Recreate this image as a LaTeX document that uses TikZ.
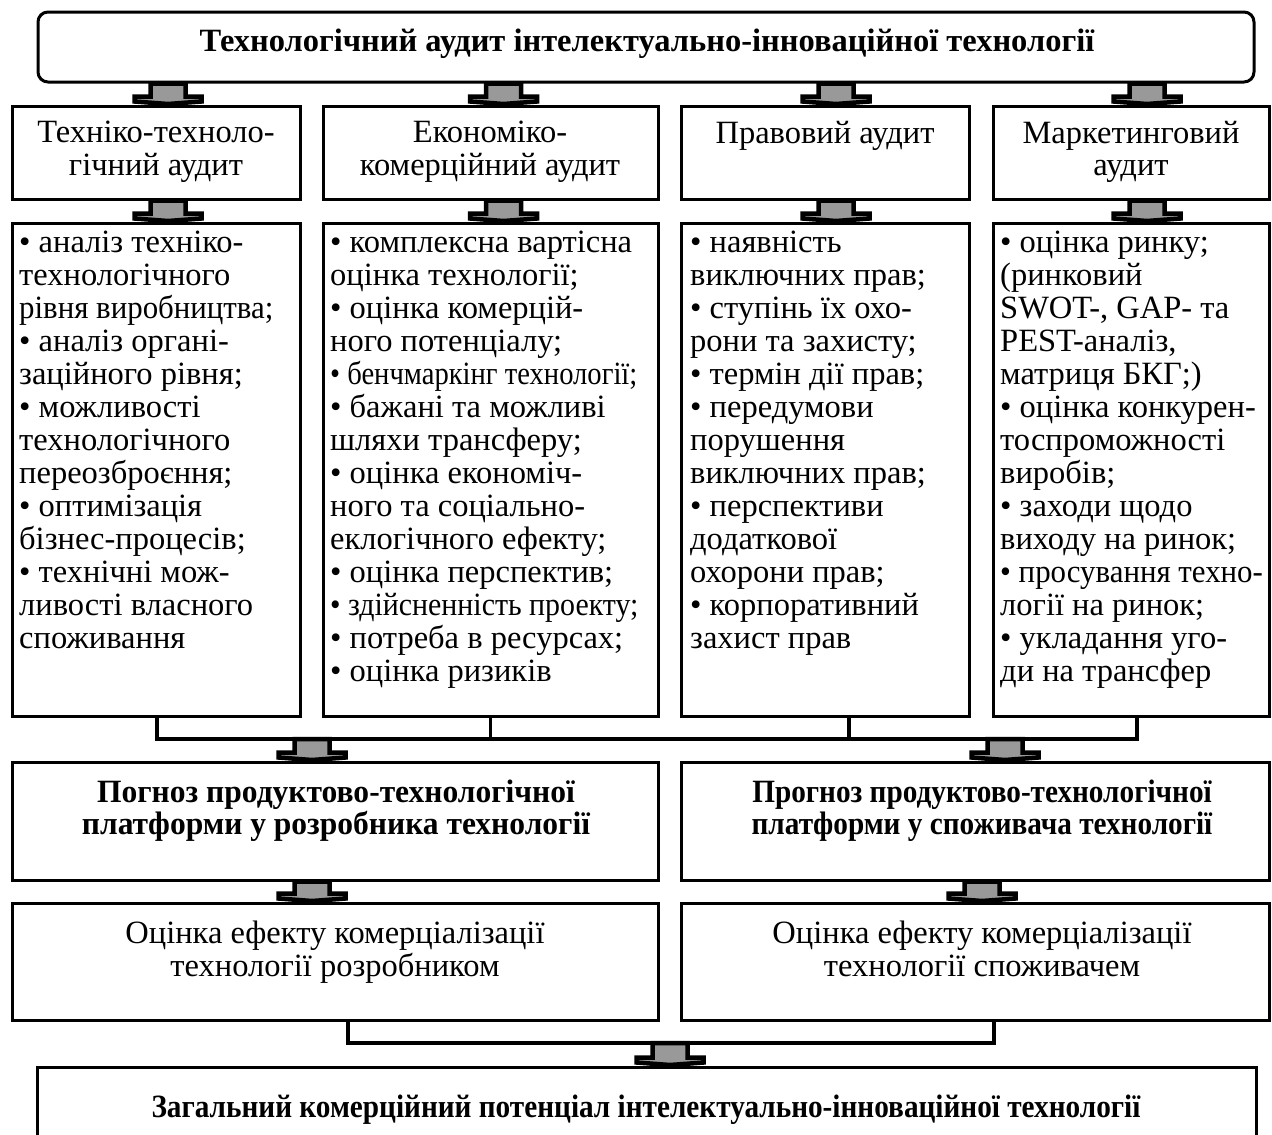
\documentclass[tikz,border=0pt]{standalone}
\usepackage{fontspec}
\usepackage{graphicx}
\setmainfont{Liberation Serif}
\usetikzlibrary{calc}
\definecolor{arrgray}{gray}{0.6}
\newcommand\cnd[2][0.86]{\scalebox{#1}[1]{#2}}
\newcommand\bx[6][]{%
  \node[box,#1,minimum width={#4-#2},minimum height={#5-#3}] (#6) at ({(#2+#4)/2},{(#3+#5)/2}) {};}
\newcommand\barrow[2]{%
  \draw[blk] let \p1=#1, \p2=#2 in
   ({\x1-17.5pt},\y1) -- ({\x1-17.5pt},{\y2+8pt}) -- ({\x1-33.5pt},{\y2+8pt}) -- ({\x1-33.5pt},{\y2+3pt})
   -- (\x1,{\y2+0.5pt}) -- ({\x1+33.5pt},{\y2+3pt}) -- ({\x1+33.5pt},{\y2+8pt}) -- ({\x1+17.5pt},{\y2+8pt})
   -- ({\x1+17.5pt},\y1) -- cycle;}
\tikzset{
  box/.style={draw, line width=3pt, inner sep=0pt},
  blk/.style={draw=black, fill=arrgray, line width=4.5pt, line join=miter},
  conn/.style={draw, line width=3.5pt, line join=miter},
  txt/.style={inner sep=0pt, font=\fontsize{32.5}{32.5}\selectfont, align=center, anchor=north},
  btxt/.style={inner sep=0pt, font=\fontsize{32.5}{32}\selectfont\bfseries, align=center, anchor=north},
  lst/.style={inner sep=0pt, font=\fontsize{32.5}{33}\selectfont, align=left, anchor=north west},
}
\begin{document}
\begin{tikzpicture}[x=1pt,y=-1pt]
\useasboundingbox[fill=white] (0,0) rectangle (1272,1135);
% boxes
\bx[rounded corners=10pt]{38}{12}{1254}{82}{tb}
\bx{12}{106}{300}{199}{r2a}
\bx{323}{106}{658}{199}{r2b}
\bx{681}{106}{969}{199}{r2c}
\bx{993}{106}{1269}{199}{r2d}
\bx{12}{223}{300}{716}{r3a}
\bx{323}{223}{658}{716}{r3b}
\bx{681}{223}{969}{716}{r3c}
\bx{993}{223}{1269}{716}{r3d}
\bx{12}{762}{658}{880}{r4a}
\bx{681}{762}{1269}{880}{r4b}
\bx{12}{903}{658}{1020}{r5a}
\bx{681}{903}{1269}{1020}{r5b}
\bx{37}{1067}{1256}{1170}{bb}
% texts
\node[btxt] (ttl) at (647,29) {Технологічний аудит інтелектуально-інноваційної технології};
\node[txt] (h1) at (156,121) {Техніко-техноло-\\гічний аудит};
\node[txt] (h2) at (490,121) {Економіко-\\комерційний аудит};
\node[txt] (h3) at (825,121) {Правовий аудит};
\node[txt] (h4) at (1131,121) {Маркетинговий\\аудит};
\node[lst] (l1) at (19,231) {• аналіз техніко-\\технологічного\\\cnd[0.95]{рівня виробництва;}\\• аналіз органі-\\заційного рівня;\\• можливості\\технологічного\\переозброєння;\\• оптимізація\\бізнес-процесів;\\• технічні мож-\\ливості власного\\споживання};
\node[lst] (l2) at (330,231) {• комплексна вартісна\\оцінка технології;\\• оцінка комерцій-\\ного потенціалу;\\\cnd[0.88]{• бенчмаркінг технології;}\\• бажані та можливі\\шляхи трансферу;\\• оцінка економіч-\\ного та соціально-\\еклогічного ефекту;\\• оцінка перспектив;\\\cnd[0.92]{• здійсненність проекту;}\\• потреба в ресурсах;\\• оцінка ризиків};
\node[lst] (l3) at (690,231) {• наявність\\виключних прав;\\• ступінь їх охо-\\рони та захисту;\\• термін дії прав;\\• передумови\\порушення\\виключних прав;\\• перспективи\\додаткової\\охорони прав;\\• корпоративний\\захист прав};
\node[lst] (l4) at (1000,231) {• оцінка ринку;\\(ринковий\\SWOT-, GAP- та\\PEST-аналіз,\\матриця БКГ;)\\• оцінка конкурен-\\тоспроможності\\виробів;\\• заходи щодо\\виходу на ринок;\\\cnd[0.95]{• просування техно-}\\логії на ринок;\\• укладання уго-\\ди на трансфер};
\node[btxt] (p1) at (336,780) {\cnd[0.97]{Погноз продуктово-технологічної}\\\cnd[0.97]{платформи у розробника технології}};
\node[btxt] (p2) at (982,780) {\cnd[0.9]{Прогноз продуктово-технологічної}\\\cnd[0.9]{платформи у споживача технології}};
\node[txt] (e1) at (335,921) {Оцінка ефекту комерціалізації\\технології розробником};
\node[txt] (e2) at (982,921) {Оцінка ефекту комерціалізації\\технології споживачем};
\node[btxt] (fin) at (646,1095) {\cnd[0.9]{Загальний комерційний потенціал інтелектуально-інноваційної технології}};
% arrows row1 -> row2
\barrow{($(r2a.north |- tb.south)+(12,0)$)}{($(r2a.north)+(12,0)$)}
\barrow{($(r2b.north |- tb.south)+(13,0)$)}{($(r2b.north)+(13,0)$)}
\barrow{($(r2c.north |- tb.south)+(11,0)$)}{($(r2c.north)+(11,0)$)}
\barrow{($(r2d.north |- tb.south)+(16,0)$)}{($(r2d.north)+(16,0)$)}
% arrows row2 -> row3
\barrow{($(r2a.south)+(12,0)$)}{($(r3a.north)+(12,0)$)}
\barrow{($(r2b.south)+(13,0)$)}{($(r3b.north)+(13,0)$)}
\barrow{($(r2c.south)+(11,0)$)}{($(r3c.north)+(11,0)$)}
\barrow{($(r2d.south)+(16,0)$)}{($(r3d.north)+(16,0)$)}
% bus under row3
\coordinate (busL) at (157,739);
\coordinate (busR) at (1137,739);
\draw[conn] (r3a.south -| busL) -- (busL) -- (busR) -- (r3d.south -| busR);
\draw[conn] (r3b.south) -- (r3b.south |- busL);
\draw[conn] ($(r3c.south)+(24,0)$) -- ($(r3c.south |- busL)+(24,0)$);
\coordinate (aL) at (312,739);
\coordinate (aR) at (1005,739);
\barrow{(aL)}{(r4a.north -| aL)}
\barrow{(aR)}{(r4b.north -| aR)}
% row4 -> row5
\barrow{(r4a.south -| aL)}{(r5a.north -| aL)}
\coordinate (aR2) at (982,0);
\barrow{(r4b.south -| aR2)}{(r5b.north -| aR2)}
% bus under row5
\coordinate (bus2L) at (348,1043);
\coordinate (bus2R) at (994,1043);
\draw[conn] (r5a.south -| bus2L) -- (bus2L) -- (bus2R) -- (r5b.south -| bus2R);
\coordinate (aB) at (670,1043);
\barrow{(aB)}{(bb.north -| aB)}
\end{tikzpicture}
\end{document}
